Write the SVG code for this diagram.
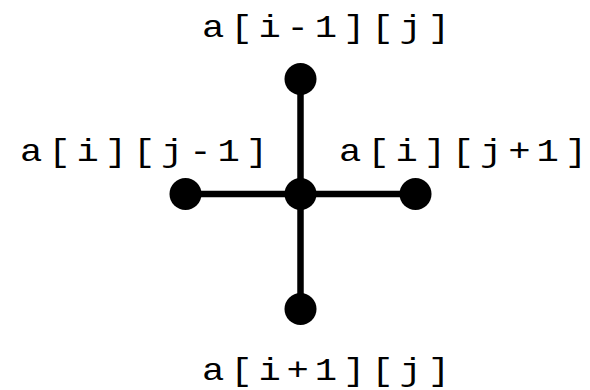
<svg xmlns="http://www.w3.org/2000/svg" width="590" height="390" viewBox="0 0 590 390">
<style>
.lbl{font-family:"Liberation Mono","Courier New",monospace;font-size:31px;fill:#000}
.dot{fill:#000}
.edge{stroke:#000;stroke-width:6.5;fill:none}
</style>
<rect width="590" height="390" fill="#fff"/>
<g id="connectors">
<line class="edge" x1="300.5" y1="79" x2="300.5" y2="309"/>
<line class="edge" x1="185.5" y1="194" x2="415.5" y2="194"/>
</g>
<g id="center"><circle class="dot" cx="300.5" cy="194" r="16"/></g>
<g id="top"><circle class="dot" cx="300.5" cy="79" r="16"/><text class="lbl" transform="scale(1.2 1)" x="168.3" y="37" textLength="206.7" lengthAdjust="spacing">a[i-1][j]</text></g>
<g id="left"><circle class="dot" cx="185.5" cy="194" r="16"/><text class="lbl" transform="scale(1.2 1)" x="16.7" y="161" textLength="206.7" lengthAdjust="spacing">a[i][j-1]</text></g>
<g id="right"><circle class="dot" cx="415.5" cy="194" r="16"/><text class="lbl" transform="scale(1.2 1)" x="282.5" y="161" textLength="206.7" lengthAdjust="spacing">a[i][j+1]</text></g>
<g id="bottom"><circle class="dot" cx="300.5" cy="309" r="16"/><text class="lbl" transform="scale(1.2 1)" x="168.3" y="380" textLength="206.7" lengthAdjust="spacing">a[i+1][j]</text></g>
</svg>
